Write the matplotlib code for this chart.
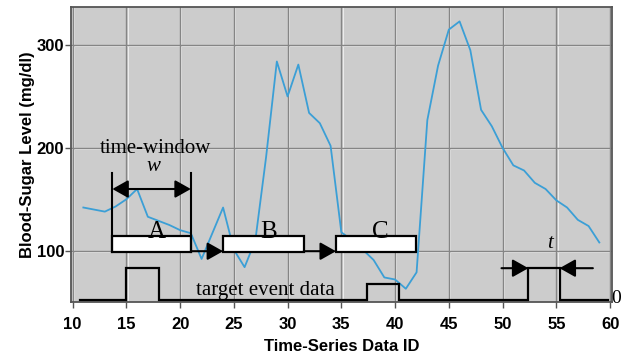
import numpy as np
import matplotlib.pyplot as plt
from matplotlib.patches import Rectangle, FancyArrowPatch
from matplotlib.transforms import offset_copy

# blood sugar reading per data id
data_id = np.arange(11, 60)
sugar = [142, 140, 138, 143, 150, 160, 133, 129, 125, 120, 117, 92, 117, 142,
         101, 84, 110, 191, 284, 250, 281, 234, 224, 202, 118, 110, 101, 91,
         74, 72, 63, 79, 227, 280, 315, 323, 295, 237, 221, 200, 183, 178,
         166, 160, 149, 142, 130, 124, 108]

# target events (drawn as pulses on a baseline)
event_start = [15.0, 37.4, 52.4]
event_end = [18.0, 40.4, 55.3]
event_level = [83, 68, 83]
event_base = 52.5
event_span = (10.7, 59.8)

# sliding time windows
win_start = [13.7, 24.0, 34.5]
win_end = [21.0, 31.5, 41.9]
win_names = ['A', 'B', 'C']
win_low, win_high = 99, 114

xticks = np.arange(10, 61, 5)
yticks = [100, 200, 300]

fig = plt.figure(figsize=(6.21, 3.56), dpi=100)
ax = fig.add_axes([0.1143, 0.1525, 0.8707, 0.827])
ax.set_facecolor('#cccccc')
ax.set_xlim(9.85, 60.15)
ax.set_ylim(50.4, 336.7)

# grid: dark line with a light highlight next to it
xt = ax.get_xaxis_transform()
yt = ax.get_yaxis_transform()
for x in xticks:
    ax.plot([x, x], [0, 1], color='#eeeeee', lw=0.7, zorder=0.4,
            transform=offset_copy(xt, fig=fig, x=1.2, units='dots'))
    ax.plot([x, x], [0, 1], color='#858585', lw=1.0, zorder=0.5, transform=xt)
for y in yticks:
    ax.plot([0, 1], [y, y], color='#eeeeee', lw=0.7, zorder=0.4,
            transform=offset_copy(yt, fig=fig, y=-1.2, units='dots'))
    ax.plot([0, 1], [y, y], color='#858585', lw=1.0, zorder=0.5, transform=yt)

ax.plot(data_id, sugar, color='#3b9fd6', lw=1.3, zorder=2)

# event step line
ex = [event_span[0]]
ey = [event_base]
for s, e, lv in zip(event_start, event_end, event_level):
    ex += [s, s, e, e]
    ey += [event_base, lv, lv, event_base]
ex.append(event_span[1])
ey.append(event_base)
ax.plot(ex, ey, color='black', lw=1.6, zorder=3, solid_joinstyle='miter')

def arrow(x0, x1, y, style='-|>'):
    a = FancyArrowPatch((x0, y), (x1, y),
                        arrowstyle=style + ',head_length=0.8,head_width=0.45',
                        mutation_scale=12, color='black', lw=1.5,
                        shrinkA=0, shrinkB=0, zorder=5)
    ax.add_patch(a)

# windows
for s, e, name in zip(win_start, win_end, win_names):
    ax.add_patch(Rectangle((s, win_low), e - s, win_high - win_low,
                           facecolor='white', edgecolor='black', lw=1.6, zorder=4))
    ax.text((s + e) / 2 + 0.45, 112, name, family='Liberation Serif',
            fontsize=18, ha='center', va='baseline', zorder=6)
for i in range(len(win_start) - 1):
    arrow(win_end[i], win_start[i + 1], win_low + 0.5)

# time-window width marker
ax.plot([win_start[0]] * 2, [win_low, 176], color='black', lw=1.5, zorder=5)
ax.plot([win_end[0]] * 2, [win_low, 176], color='black', lw=1.5, zorder=5)
arrow(win_start[0], win_end[0], 160, style='<|-|>')
ax.text(17.7, 199, 'time-window', family='Liberation Serif', fontsize=15,
        ha='center', va='center', zorder=6)
ax.text(17.5, 182, 'w', family='Liberation Serif', style='italic',
        fontsize=15, ha='center', va='center', zorder=6)

# event duration marker
arrow(49.9, event_start[2], 83)
arrow(58.4, event_end[2], 83)
ax.text(54.4, 107, 't', family='Liberation Serif', style='italic',
        fontsize=15, ha='center', va='center', zorder=6)

ax.text(27.9, 61, 'target event data', family='Liberation Serif', fontsize=15,
        ha='center', va='center', zorder=6)
ax.text(60.12, 54, '0', family='Liberation Serif', fontsize=14,
        ha='left', va='center', clip_on=False)

ax.set_xticks(xticks)
ax.set_yticks(yticks)
ax.tick_params(axis='both', direction='out', length=4, width=1, color='#555555',
               labelsize=12)
ax.tick_params(axis='x', pad=7)
ax.tick_params(axis='y', pad=1)
for lab in ax.get_xticklabels() + ax.get_yticklabels():
    lab.set_fontweight('bold')
    lab.set_family('Liberation Sans')
for sp in ax.spines.values():
    sp.set_color('#555555')
    sp.set_linewidth(1.3)

ax.set_xlabel('Time-Series Data ID', fontsize=12, fontweight='bold',
              family='Liberation Sans', labelpad=5)
ax.set_ylabel('Blood-Sugar Level (mg/dl)', fontsize=12, fontweight='bold',
              family='Liberation Sans', labelpad=1)

fig.savefig('out.png', dpi=100)
